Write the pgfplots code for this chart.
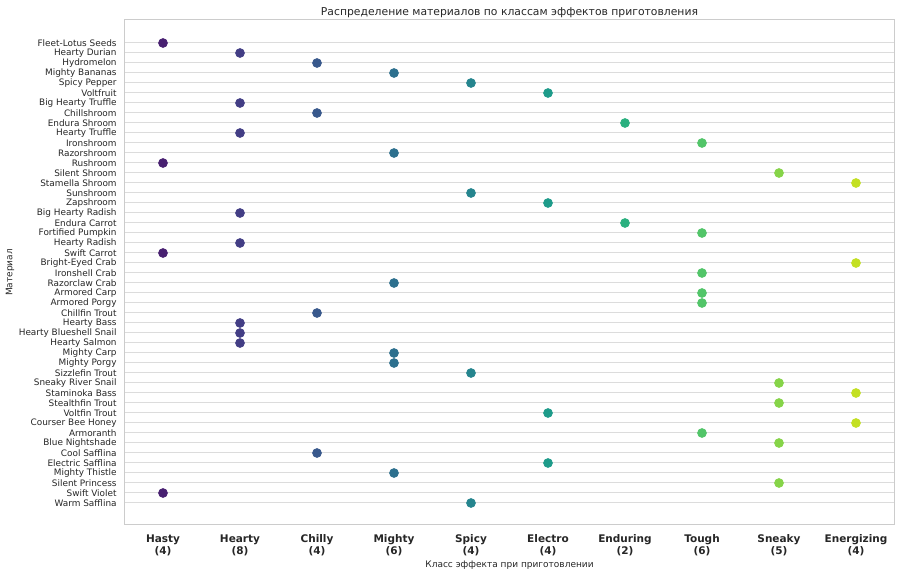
\documentclass[border=0pt]{standalone}
\usepackage{pgfplots}
\pgfplotsset{compat=1.18}
\usepackage{fontspec}
\setmainfont{DejaVu Sans}
\definecolor{txt}{HTML}{262626}
\definecolor{gridc}{HTML}{DCDCDC}
\definecolor{framec}{HTML}{CCCCCC}
\definecolor{c0}{HTML}{482071}
\definecolor{c1}{HTML}{433E85}
\definecolor{c2}{HTML}{38588C}
\definecolor{c3}{HTML}{2D708E}
\definecolor{c4}{HTML}{25858E}
\definecolor{c5}{HTML}{1E9B8A}
\definecolor{c6}{HTML}{2AB07F}
\definecolor{c7}{HTML}{52C569}
\definecolor{c8}{HTML}{86D449}
\definecolor{c9}{HTML}{C3E023}
\begin{document}
\begin{tikzpicture}
\path[use as bounding box] (-62.25pt,-25.5pt) rectangle (387.75pt,262.5pt);
\begin{axis}[
  at={(0,0)}, anchor=south west,
  scale only axis,
  width=385pt, height=252.5pt,
  xmin=-0.5, xmax=9.5,
  ymin=-2.3, ymax=48.2,
  y dir=reverse,
  axis line style={framec, line width=0.5pt},
  ymajorgrids, xmajorgrids=false,
  grid style={gridc, line width=0.5pt},
  tick style={draw=none},
  xtick={0,...,9},
  xticklabels={{Hasty\\(4)},{Hearty\\(8)},{Chilly\\(4)},{Mighty\\(6)},{Spicy\\(4)},{Electro\\(4)},{Enduring\\(2)},{Tough\\(6)},{Sneaky\\(5)},{Energizing\\(4)}},
  xticklabel style={align=center, font=\fontsize{5.25pt}{6pt}\selectfont\bfseries, text=txt, inner sep=0pt, anchor=north, yshift=-4.5pt},
  ytick={0,...,46},
  yticklabels={Fleet-Lotus Seeds,Hearty Durian,Hydromelon,Mighty Bananas,Spicy Pepper,Voltfruit,Big Hearty Truffle,Chillshroom,Endura Shroom,Hearty Truffle,Ironshroom,Razorshroom,Rushroom,Silent Shroom,Stamella Shroom,Sunshroom,Zapshroom,Big Hearty Radish,Endura Carrot,Fortified Pumpkin,Hearty Radish,Swift Carrot,Bright-Eyed Crab,Ironshell Crab,Razorclaw Crab,Armored Carp,Armored Porgy,Chillfin Trout,Hearty Bass,Hearty Blueshell Snail,Hearty Salmon,Mighty Carp,Mighty Porgy,Sizzlefin Trout,Sneaky River Snail,Staminoka Bass,Stealthfin Trout,Voltfin Trout,Courser Bee Honey,Armoranth,Blue Nightshade,Cool Safflina,Electric Safflina,Mighty Thistle,Silent Princess,Swift Violet,Warm Safflina},
  yticklabel style={font=\fontsize{4.45pt}{5pt}\selectfont, text=txt, inner sep=0pt, anchor=east, xshift=-3.75pt},
  title={Распределение материалов по классам эффектов приготовления},
  title style={font=\fontsize{5.4pt}{6.5pt}\selectfont, text=txt, at={(axis description cs:0.5,1)}, anchor=base, yshift=-4pt, inner sep=0pt},
  xlabel={Класс эффекта при приготовлении},
  xlabel style={font=\fontsize{4.5pt}{5.5pt}\selectfont, text=txt, at={(axis description cs:0.5,0)}, anchor=center, yshift=-20pt, inner sep=0pt},
  ylabel={Материал},
  ylabel style={font=\fontsize{4.5pt}{5.5pt}\selectfont, text=txt, at={(axis description cs:-0.1487,0.5)}, anchor=center, rotate=0, inner sep=0pt},
  every axis plot/.append style={only marks, mark=*, mark size=2.2pt},
]
\addplot[c0, mark options={draw=c0, fill=c0}] coordinates {(0,0) (0,12) (0,21) (0,45)};
\addplot[c1, mark options={draw=c1, fill=c1}] coordinates {(1,1) (1,6) (1,9) (1,17) (1,20) (1,28) (1,29) (1,30)};
\addplot[c2, mark options={draw=c2, fill=c2}] coordinates {(2,2) (2,7) (2,27) (2,41)};
\addplot[c3, mark options={draw=c3, fill=c3}] coordinates {(3,3) (3,11) (3,24) (3,31) (3,32) (3,43)};
\addplot[c4, mark options={draw=c4, fill=c4}] coordinates {(4,4) (4,15) (4,33) (4,46)};
\addplot[c5, mark options={draw=c5, fill=c5}] coordinates {(5,5) (5,16) (5,37) (5,42)};
\addplot[c6, mark options={draw=c6, fill=c6}] coordinates {(6,8) (6,18)};
\addplot[c7, mark options={draw=c7, fill=c7}] coordinates {(7,10) (7,19) (7,23) (7,25) (7,26) (7,39)};
\addplot[c8, mark options={draw=c8, fill=c8}] coordinates {(8,13) (8,34) (8,36) (8,40) (8,44)};
\addplot[c9, mark options={draw=c9, fill=c9}] coordinates {(9,14) (9,22) (9,35) (9,38)};
\end{axis}
\end{tikzpicture}
\end{document}
